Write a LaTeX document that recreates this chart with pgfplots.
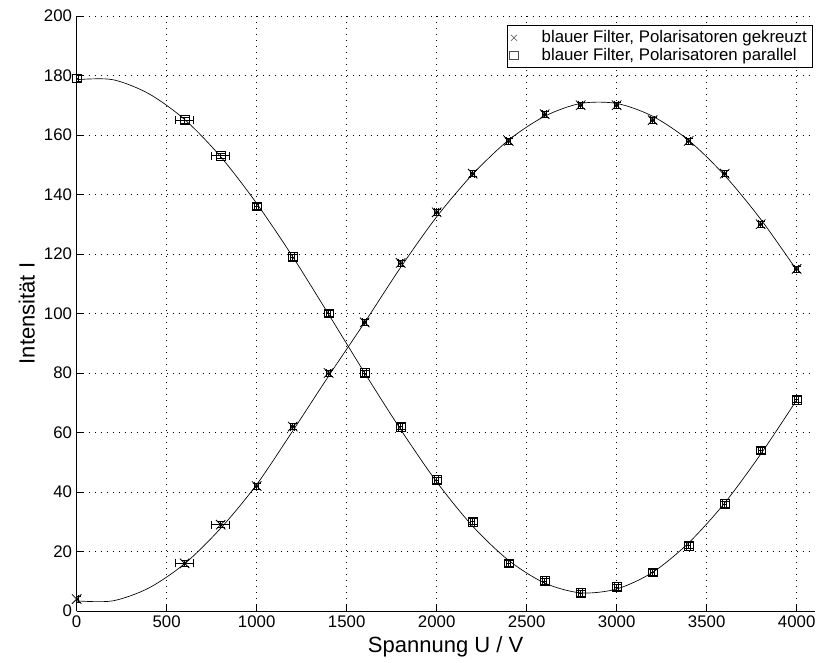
\documentclass[border=0pt]{standalone}
\usepackage{fontspec}
\setmainfont{Liberation Sans}
\usepackage{pgfplots}
\usepackage{pgfplotstable}
\pgfplotsset{compat=1.18}

% U, I, error in U, error in I
\pgfplotstableread{
U    I    eU  eI
0    4    12  1
600  16   50  1
800  29   50  1
1000 42   12  1
1200 62   12  1
1400 80   12  1
1600 97   12  1
1800 117  12  1
2000 134  12  1
2200 147  12  1
2400 158  12  1
2600 167  12  1
2800 170  12  1
3000 170  12  1
3200 165  12  1
3400 158  12  1
3600 147  12  1
3800 130  12  1
4000 115  12  1
}\gekreuzt

\pgfplotstableread{
U    I    eU  eI
0    179  12  1
600  165  50  1
800  153  50  1
1000 136  12  1
1200 119  12  1
1400 100  12  1
1600 80   12  1
1800 62   12  1
2000 44   12  1
2200 30   12  1
2400 16   12  1
2600 10   12  1
2800 6    12  1
3000 8    12  1
3200 13   12  1
3400 22   12  1
3600 36   12  1
3800 54   12  1
4000 71   12  1
}\parallel

\begin{document}
\begin{tikzpicture}
\begin{axis}[
  scale only axis,
  width=553.5pt, height=446.25pt,
  xmin=0, xmax=4100, ymin=0, ymax=200,
  xtick={0,500,...,4000}, ytick={0,20,...,200},
  axis x line=bottom, axis y line=left,
  axis line style={-, line width=0.6pt},
  tick align=inside, major tick length=5.25pt,
  tick style={black, line width=0.5pt},
  grid=major,
  major grid style={black, line width=0.5pt, dash pattern=on 0.6pt off 3.9pt},
  tick label style={font=\fontsize{12.6}{15}\selectfont},
  label style={font=\fontsize{16.5}{19}\selectfont},
  /pgf/number format/assume math mode=true,
  /pgf/number format/1000 sep={},
  xlabel={Spannung U / V},
  ylabel={Intensität I},
  legend style={at={(rel axis cs:1,1)}, anchor=north east,
    xshift=-1.5pt, yshift=-6.75pt, draw=black, line width=0.6pt,
    fill=white, font=\fontsize{12.6}{15}\selectfont,
    cells={anchor=west}, row sep=-1.5pt, inner xsep=2pt},
  legend cell align=left,
  legend image code/.code={
    \node[draw=none, inner sep=0pt, minimum width=19pt, minimum height=2pt] at (9.5pt,0pt) {};
    \draw[#1, only marks, black!70, line width=0.45pt, mark size=3.2pt] plot coordinates {(10pt,0pt)};
  },
]
\addplot[black, line width=0.6pt, only marks, mark=x, mark size=5pt,
  error bars/.cd, x dir=both, x explicit, y dir=both, y explicit,
  error bar style={line width=0.5pt},
  error mark options={rotate=90, mark size=3pt, line width=0.5pt, black}]
  table[x=U, y=I, x error=eU, y error=eI] {\gekreuzt};
\addlegendentry{blauer Filter, Polarisatoren gekreuzt}

\addplot[black, line width=0.6pt, only marks, mark=square, mark size=3.3pt,
  error bars/.cd, x dir=both, x explicit, y dir=both, y explicit,
  error bar style={line width=0.5pt},
  error mark options={rotate=90, mark size=3pt, line width=0.5pt, black}]
  table[x=U, y=I, x error=eU, y error=eI] {\parallel};
\addlegendentry{blauer Filter, Polarisatoren parallel}

% fitted curves
\addplot[black, line width=0.5pt, smooth, forget plot] coordinates {
  (0,3.4) (200,3.4) (400,7.7) (600,15.9) (800,27.8) (1000,42.5)
  (1200,60.5) (1400,79) (1600,97) (1800,115.5) (2000,132.5) (2200,146.8)
  (2400,158.3) (2600,166.3) (2800,170.6) (3000,170.6)
  (3200,166.3) (3400,158.2) (3600,146.4) (3800,131.7) (4000,114.6)};
\addplot[black, line width=0.5pt, smooth, forget plot] coordinates {
  (0,178.6) (200,178.6) (400,173.9) (600,165.2) (800,152.7)
  (1000,137) (1200,119.1) (1400,99.7) (1600,80) (1800,61) (2000,43.4)
  (2200,28.5) (2400,17) (2600,9.4) (2800,6.1) (3000,7.4) (3200,13)
  (3400,22.9) (3600,36.3) (3800,52.7) (4000,70.9)};
\end{axis}
\path (-57.5pt,-39pt) rectangle (559pt,458.25pt);
\end{tikzpicture}
\end{document}
